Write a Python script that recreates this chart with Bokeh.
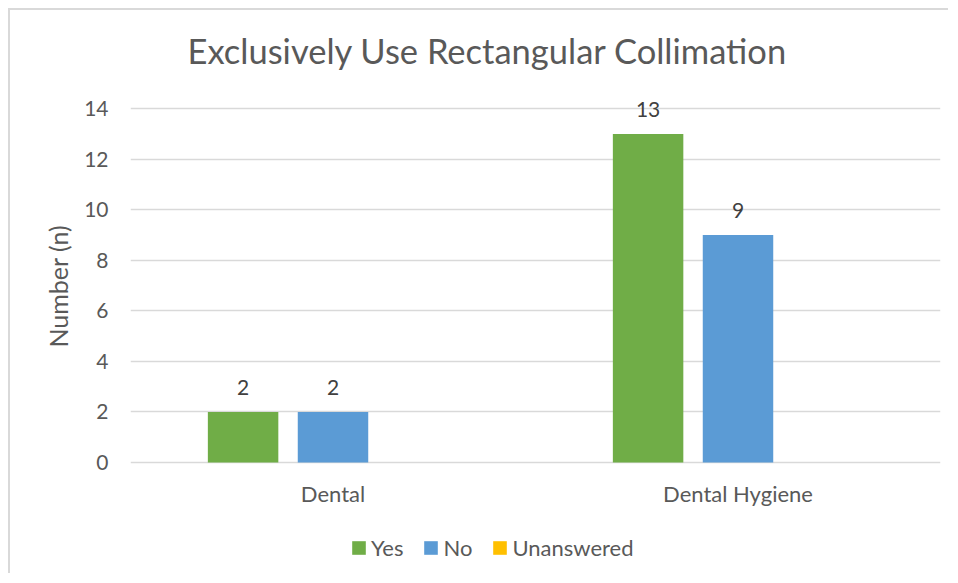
from bokeh.plotting import figure
from bokeh.models import ColumnDataSource, FactorRange, Range1d, Legend, LegendItem, LabelSet, Title
from bokeh.transform import dodge
from bokeh.core.properties import value
from bokeh.embed import file_html
from bokeh.resources import INLINE

categories = ["Dental", "Dental Hygiene"]
series_names = ["Yes", "No", "Unanswered"]
yes_vals = [2, 13]
no_vals = [2, 9]
unanswered_vals = [0, 0]
y_ticks = [0, 2, 4, 6, 8, 10, 12, 14]

colors = ["#70AD47", "#5B9BD5", "#FFC000"]
FONT = "Lato"
TXT = "#595959"

src = ColumnDataSource(dict(cat=categories, Yes=yes_vals, No=no_vals, Unanswered=unanswered_vals,
                            yes_lbl=[str(v) for v in yes_vals], no_lbl=[str(v) for v in no_vals]))
cat_src = ColumnDataSource(dict(cat=categories, base=[0] * len(categories)))

# frame: top at y=15, extends below 0 so that category labels and legend are inside it
p = figure(x_range=FactorRange(*categories, range_padding=0), y_range=Range1d(-4.354, 15),
           width=940, height=565, output_backend="svg", toolbar_location=None,
           min_border_left=120, min_border_right=10, min_border_top=73, min_border_bottom=3,
           styles={"margin-left": "8px", "margin-top": "8px",
                   "border-left": "2px solid #d9d9d9", "border-top": "2px solid #d9d9d9"})

p.title.text = "Exclusively Use Rectangular Collimation"
p.title.align = "left"
p.title.offset = 57
p.title.text_font = FONT
p.title.text_font_style = "normal"
p.title.text_font_size = "34.5px"
p.title.text_color = TXT
p.title.standoff = 25

p.outline_line_color = None
p.background_fill_color = "white"
p.border_fill_color = "white"

p.xgrid.grid_line_color = None
p.ygrid.grid_line_color = "#d9d9d9"
p.ygrid.grid_line_width = 1.3
p.yaxis.ticker = y_ticks

p.yaxis.axis_line_color = None
p.yaxis.major_tick_line_color = None
p.yaxis.minor_tick_line_color = None
p.yaxis.major_tick_out = 0
p.yaxis.major_tick_in = 0
p.yaxis.minor_tick_out = 0
p.yaxis.major_label_standoff = 22
p.yaxis.major_label_text_font = FONT
p.yaxis.major_label_text_font_size = "21px"
p.yaxis.major_label_text_color = TXT

p.xaxis.visible = False

ytitle = Title(text="Number (n)", align="left", offset=225, standoff=17,
               text_font=FONT, text_font_size="25px", text_font_style="normal", text_color=TXT)
p.add_layout(ytitle, "left")

bw = 0.174
offs = [-0.222, 0.0, 0.222]
renderers = []
for name, col, off in zip(series_names, colors, offs):
    r = p.vbar(x=dodge("cat", off, range=p.x_range), top=name, width=bw, source=src,
               fill_color=col, line_color=None)
    renderers.append(r)

for lbl, top, off in (("yes_lbl", "Yes", offs[0]), ("no_lbl", "No", offs[1])):
    ls = LabelSet(x=dodge("cat", off, range=p.x_range), y=top, text=lbl, source=src,
                  text_align="center", text_baseline="alphabetic", y_offset=17,
                  text_font=value(FONT), text_font_size=value("21px"), text_color=value("#404040"))
    p.add_layout(ls)

# category labels
p.text(x="cat", y="base", text="cat", source=cat_src, text_align="center", text_baseline="middle",
       y_offset=31, text_font=value(FONT), text_font_size=value("22px"), text_color=TXT)

legend = Legend(items=[LegendItem(label=n, renderers=[r]) for n, r in zip(series_names, renderers)],
                orientation="horizontal", location=(220, 11),
                glyph_width=17, glyph_height=17, label_standoff=4, spacing=19, padding=0,
                border_line_color=None, background_fill_alpha=0,
                label_text_font=FONT, label_text_font_size="22px", label_text_color=TXT)
p.add_layout(legend, "center")

open("out.html", "w").write(file_html(p, INLINE))
